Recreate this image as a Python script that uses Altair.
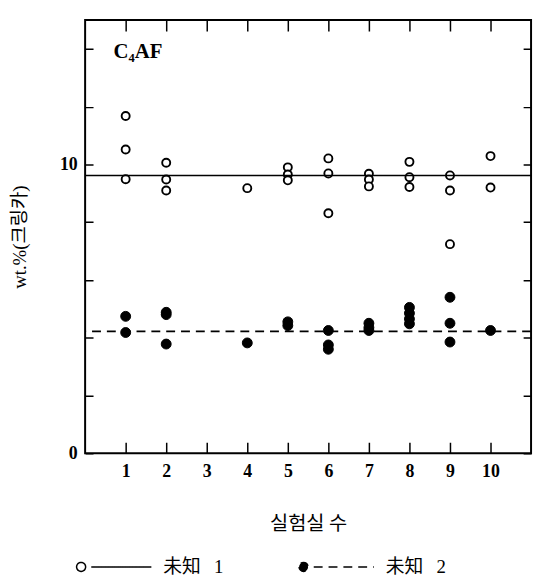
import altair as alt
import pandas as pd

# ---- data ----
labs_open = [1, 1, 1, 2, 2, 2, 4, 5, 5, 5, 6, 6, 6, 7, 7, 7, 8, 8, 8, 9, 9, 9, 10, 10]
vals_open = [11.68, 10.52, 9.49, 10.06, 9.48, 9.10, 9.18, 9.9, 9.65, 9.45,
             10.21, 9.69, 8.31, 9.68, 9.48, 9.24, 10.09, 9.56, 9.22,
             9.62, 9.10, 7.24, 10.29, 9.20]
labs_fill = [1, 1, 2, 2, 2, 4, 5, 5, 6, 6, 6, 7, 7, 7, 8, 8, 8, 8, 9, 9, 9, 10]
vals_fill = [4.74, 4.18, 4.88, 4.80, 3.78, 3.82, 4.55, 4.42, 4.25, 3.75, 3.60,
             4.50, 4.35, 4.25, 5.05, 4.85, 4.65, 4.48, 5.40, 4.50, 3.85, 4.25]
series = ["未知 1", "未知 2"]
mean_vals = [9.62, 4.22]
x_ticks = [1, 2, 3, 4, 5, 6, 7, 8, 9, 10]
y_ticks = list(range(0, 16))
annot_text = ["C₄AF"]
annot_x = [0.7]
annot_y = [13.7]

df_open = pd.DataFrame({"lab": labs_open, "val": vals_open, "series": series[0]})
df_fill = pd.DataFrame({"lab": labs_fill, "val": vals_fill, "series": series[1]})
df_mean = pd.DataFrame({"val": mean_vals, "series": series})
df_text = pd.DataFrame({"lab": annot_x, "val": annot_y, "t": annot_text})

W, H = 451, 438
SERIF = "Liberation Serif"
KR = "Liberation Serif, Noto Sans CJK KR"

xs = alt.Scale(domain=[0, 11], nice=False, zero=False)
ys = alt.Scale(domain=[0, 15], nice=False, zero=False)

# legend symbol: circle followed by a line
r = 0.12
cx = -0.87
PATH = (f"M{cx - r},0A{r},{r} 0 1,0 {cx + r},0A{r},{r} 0 1,0 {cx - r},0Z"
        f"M-0.6,0L1,0")

legend = alt.Legend(
    orient="none", legendX=-10, legendY=514, direction="horizontal", title=None,
    symbolType=PATH, symbolSize=5776, symbolStrokeColor="black", symbolStrokeWidth=1.5,
    labelOffset=11, columnPadding=73, labelFont=KR, labelFontSize=19, labelColor="black",
    labelExpr="replace(datum.label, ' ', '\u2002\u2009')",
)

fill_scale = alt.Scale(domain=series, range=["white", "black"])
dash_scale = alt.Scale(domain=series, range=[[1, 0], [9, 6]])

# inward ticks drawn as grid lines dashed so only both ends show
x_axis = alt.Axis(
    orient="bottom", values=x_ticks, tickSize=0, labelPadding=10, domain=False,
    grid=True, gridColor="black", gridWidth=1.5, gridOpacity=1, gridDash=[11, H - 22, 11, 200],
    title="실험실 수", titlePadding=33, titleFont="Noto Sans CJK KR", titleFontSize=20,
    titleFontWeight="normal", labelFont=SERIF, labelFontSize=18, labelFontWeight="bold",
    labelAngle=0, labelColor="black", titleColor="black")
y_axis = alt.Axis(
    orient="left", values=y_ticks, tickSize=0, labelPadding=8, domain=False,
    labelExpr="datum.value % 5 == 0 ? datum.label : ''",
    grid=True, gridColor="black", gridWidth=1.5, gridOpacity=1, gridDash=[8, W - 16, 8, 200],
    title="wt.%(크링카)", titlePadding=30, titleFont=KR, titleFontSize=19,
    titleFontWeight="normal", labelFont=SERIF, labelFontSize=18, labelFontWeight="bold",
    labelColor="black", titleColor="black")

A = alt.Chart(df_open).mark_circle(size=66, stroke="black", strokeWidth=1.9, opacity=1).encode(
    x=alt.X("lab:Q", scale=xs, axis=x_axis),
    y=alt.Y("val:Q", scale=ys, axis=y_axis),
    fill=alt.Fill("series:N", scale=fill_scale, legend=legend),
)

B = alt.Chart(df_fill).mark_circle(size=100, stroke="black", strokeWidth=1, opacity=1).encode(
    x=alt.X("lab:Q", scale=xs),
    y=alt.Y("val:Q", scale=ys),
    fill=alt.Fill("series:N", scale=fill_scale, legend=legend),
)

C = alt.Chart(df_mean).mark_rule(color="black", strokeWidth=1.6).encode(
    y=alt.Y("val:Q", scale=ys),
    strokeDash=alt.StrokeDash("series:N", scale=dash_scale, legend=legend),
)

D = alt.Chart(df_text).mark_text(align="left", baseline="alphabetic", font=SERIF,
                                 fontSize=21, fontWeight="bold", color="black").encode(
    x=alt.X("lab:Q", scale=xs),
    y=alt.Y("val:Q", scale=ys),
    text="t:N",
)

chart = alt.layer(A, B, C, D).properties(
    width=W, height=H,
    padding={"left": 78, "top": 9, "right": 5, "bottom": 125},
    autosize=alt.AutoSizeParams(type="none"),
).configure_view(
    stroke="black", strokeWidth=2
)

chart.save("out.html", embed_options={"renderer": "svg", "actions": False})
